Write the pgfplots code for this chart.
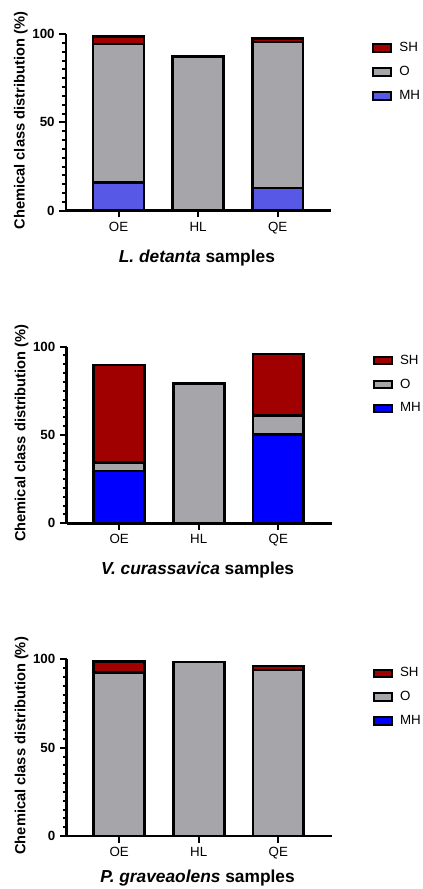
\documentclass[border=0pt]{standalone}
\usepackage{fontspec}
\setmainfont{Liberation Sans}
\usepackage{pgfplots}
\pgfplotsset{compat=1.18}
\definecolor{SHred}{RGB}{160,0,0}
\definecolor{Ogray}{RGB}{165,165,170}
\definecolor{MHviolet}{RGB}{88,88,230}
\definecolor{MHblue}{RGB}{0,0,255}
\pgfplotsset{
  panel/.style={
    scale only axis, width=198.75pt, height=132.5pt,
    ybar stacked, bar width=0.64,
    xmin=-0.66, xmax=2.67, ymin=0, ymax=100,
    axis x line*=bottom, axis y line*=left,
    axis line style={line width=2pt, -},
    xtick={0,1,2}, xticklabels={OE,HL,QE},
    ytick={0,50,100}, minor y tick num=9,
    tick align=outside,
    major tick length=5pt, minor tick length=3pt,
    every tick/.style={line width=1.5pt, black},
    /pgf/number format/assume math mode=true,
    yticklabel style={font=\fontsize{10}{12}\selectfont\bfseries},
    xticklabel style={font=\fontsize{10}{12}\selectfont},
    ylabel={\textbf{Chemical class distribution (\%)}},
    ylabel style={font=\fontsize{11}{13}\selectfont, at={(axis description cs:-0.17,0.51)}, anchor=center},
    xlabel style={font=\fontsize{13}{15}\selectfont, at={(axis description cs:0.494,-0.291)}, anchor=base},
    every axis plot/.append style={draw=black, line width=2pt},
    reverse legend,
    legend image code/.code={\draw[#1, line width=1.5pt] (0pt,-2.8pt) rectangle (13.5pt,2.8pt);
      \path[draw=none, fill=none] (0pt,0pt) -- (17.5pt,0pt);},
    legend style={draw=none, fill=none, at={(axis description cs:1.14,0.985)}, anchor=north west,
      font=\fontsize{10}{12}\selectfont, row sep=5.5pt, legend cell align=left,
      nodes={inner sep=2pt}},
  }
}
\begin{document}
\begin{tikzpicture}
\useasboundingbox (0,0) rectangle (316.5pt,666.75pt);
% Panel 1: L. detanta
\begin{axis}[panel, at={(49.5pt,508.7pt)}, anchor=south west,
  xlabel={\textbf{\textit{L. detanta} samples}}]
\addplot[fill=MHviolet] coordinates {(0,16.1) (1,0) (2,12.9)};
\addplot[fill=Ogray] coordinates {(0,78.2) (1,87.3) (2,82.6)};
\addplot[fill=SHred] coordinates {(0,4.2) (1,0) (2,2.0)};
\legend{MH,O,SH}
\end{axis}
% Panel 2: V. curassavica
\begin{axis}[panel, at={(50pt,274.3pt)}, anchor=south west,
  xlabel={\textbf{\textit{V. curassavica} samples}}]
\addplot[fill=MHblue] coordinates {(0,29.5) (1,0) (2,50.1)};
\addplot[fill=Ogray] coordinates {(0,4.9) (1,79.0) (2,10.8)};
\addplot[fill=SHred] coordinates {(0,55.2) (1,0) (2,34.9)};
\legend{MH,O,SH}
\end{axis}
% Panel 3: P. graveaolens
\begin{axis}[panel, at={(50pt,39.75pt)}, anchor=south west,
  xlabel={\textbf{\textit{P. graveaolens} samples}},
  xlabel style={at={(axis description cs:0.494,-0.262)}}]
\addplot[fill=MHblue] coordinates {(0,0) (1,0) (2,0)};
\addplot[fill=Ogray] coordinates {(0,92.5) (1,98.5) (2,94.0)};
\addplot[fill=SHred] coordinates {(0,6.4) (1,0) (2,2.2)};
\legend{MH,O,SH}
\end{axis}
\end{tikzpicture}
\end{document}
